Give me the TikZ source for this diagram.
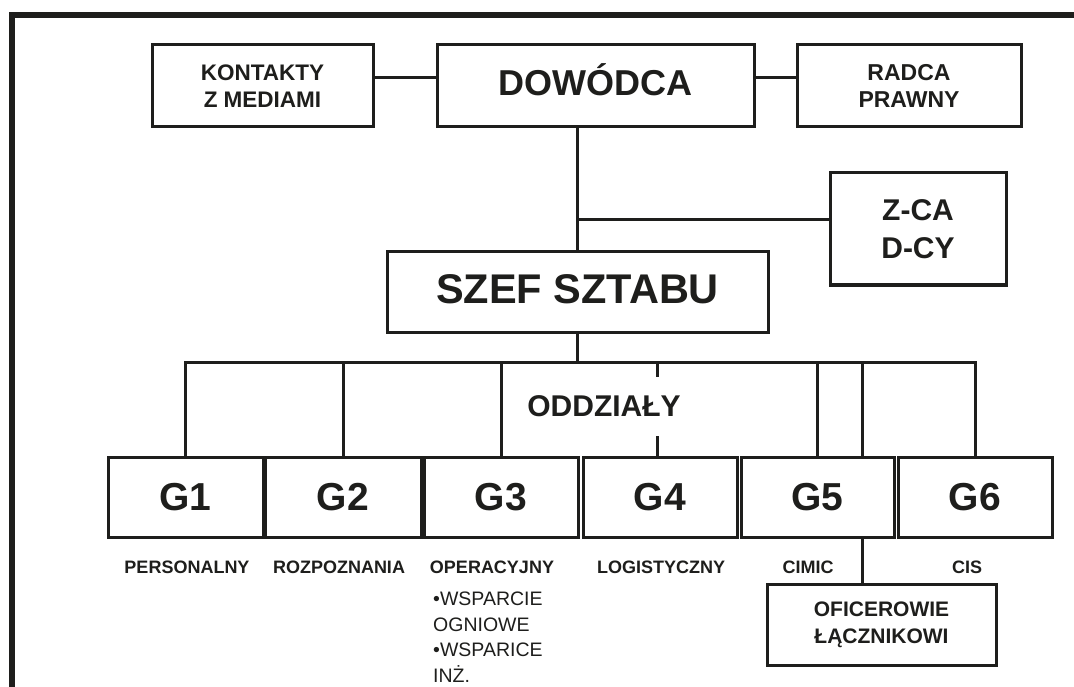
\documentclass[tikz,border=0pt]{standalone}
\usepackage{fontspec}
\setmainfont{Liberation Sans}
\definecolor{ink}{RGB}{30,30,28}
\tikzset{
  box/.style={draw=ink, line width=3pt, inner sep=0pt, text=ink, align=center},
  conn/.style={draw=ink, line width=3pt},
  lbl/.style={inner sep=0pt, text=ink, font=\bfseries\fontsize{18}{22}\selectfont},
  gbox/.style={box, minimum width=154pt, minimum height=80pt, font=\bfseries\fontsize{39}{46}\selectfont},
}
\begin{document}
\begin{tikzpicture}[x=1pt,y=-1pt]
\useasboundingbox (0,0) rectangle (1074,687);
\fill[white] (0,0) rectangle (1074,687);
% frame
\draw[ink, line width=6pt] (12,687) -- (12,15) -- (1074,15);

% top row
\node[box, minimum width=221pt, minimum height=82pt, font=\bfseries\fontsize{22.5}{27.5}\selectfont] (kont) at (262.5,86) {KONTAKTY\\Z MEDIAMI};
\node[box, minimum width=317pt, minimum height=82pt, text height=26pt, text depth=6pt, font=\bfseries\fontsize{36}{42}\selectfont] (dow) at (595.5,86) {DOWÓDCA};
\node[box, minimum width=224pt, minimum height=82pt, font=\bfseries\fontsize{23}{27.5}\selectfont] (radca) at (909,86) {RADCA\\PRAWNY};

% middle
\node[box, minimum width=176pt, minimum height=112pt, font=\bfseries\fontsize{30}{38}\selectfont] (zca) at (918,229) {Z-CA\\D-CY};
\node[box, minimum width=381pt, minimum height=80pt, text height=30pt, text depth=8pt, font=\bfseries\fontsize{41.5}{48}\selectfont] (szef) at (577.5,292) {SZEF SZTABU};

% G row
\node[gbox, minimum width=155pt] (g1) at (185.5,497) {G1};
\node[gbox, minimum width=156pt] (g2) at (343,497) {G2};
\node[gbox] (g3) at (501,497) {G3};
\node[gbox] (g4) at (660,497) {G4};
\node[gbox, minimum width=153pt] (g5) at (817.5,497) {G5};
\node[gbox] (g6) at (975,497) {G6};

\node[inner xsep=3pt, inner ysep=0pt, minimum height=59pt, text=ink, font=\bfseries\fontsize{30}{36}\selectfont] (oddz) at (604,406.5) {ODDZIAŁY};

% labels
\node[lbl] (lp) at (187,567) {PERSONALNY};
\node[lbl] (lr) at (339,567) {ROZPOZNANIA};
\node[lbl] (lo) at (492,567) {OPERACYJNY};
\node[lbl] (ll) at (661,567) {LOGISTYCZNY};
\node[lbl] (lc) at (808,567) {CIMIC};
\node[lbl] (ls) at (967,567) {CIS};

\node[inner sep=0pt, anchor=north west, align=left, text=ink, font=\fontsize{19.5}{25.5}\selectfont] (lst) at (433,592) {•WSPARCIE\\OGNIOWE\\•WSPARICE\\INŻ.};

\node[box, minimum width=229pt, minimum height=81pt, font=\bfseries\fontsize{21}{27}\selectfont] (ofic) at (881.5,624.5) {OFICEROWIE\\ŁĄCZNIKOWI};

% connectors
\coordinate (bar) at (577.5,362);
\coordinate (j1) at (577.5,220);
\coordinate (c5) at (862,362);
\draw[conn] ([yshift=8pt]kont.east) -- ([yshift=8pt]dow.west);
\draw[conn] ([yshift=8pt]dow.east) -- ([yshift=8pt]radca.west);
\draw[conn] (dow.south -| szef.north) -- (szef.north);
\draw[conn] (j1) -- (j1 -| zca.west);
\draw[conn] (szef.south) -- (bar);
\draw[conn] (g1.north) -- (g1.north |- bar) -- (g6.north |- bar) -- (g6.north);
\draw[conn] (g2.north |- bar) -- (g2.north);
\draw[conn] (g3.north |- bar) -- (g3.north);
\draw[conn] ([xshift=-3pt]g4.north |- bar) -- ([xshift=-3pt]g4.north |- oddz.north);
\draw[conn] ([xshift=-3pt]g4.north |- oddz.south) -- ([xshift=-3pt]g4.north);
\draw[conn] (g5.north |- bar) -- (g5.north);
\draw[conn] (c5) -- (c5 |- g5.north);
\draw[conn] (c5 |- g5.south) -- (c5 |- ofic.north);
\end{tikzpicture}
\end{document}
